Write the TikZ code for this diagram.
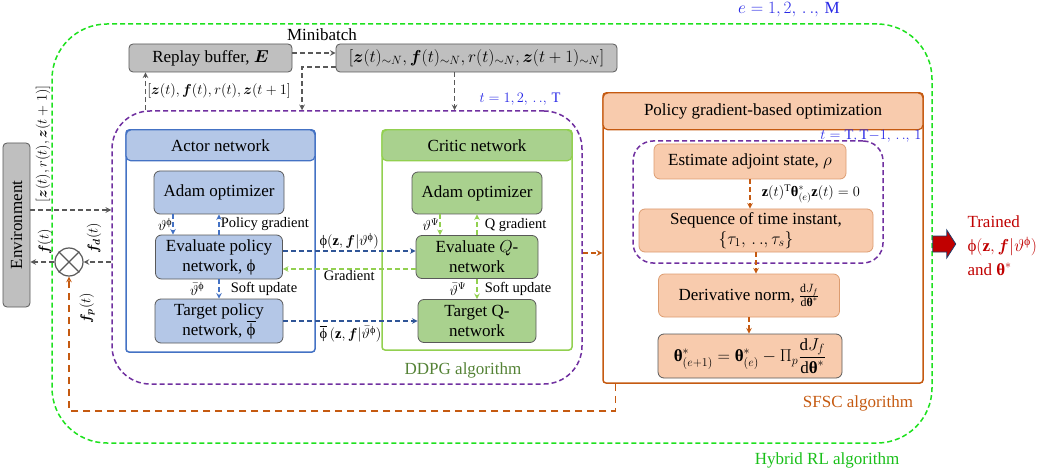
\documentclass[tikz,border=0pt]{standalone}
\usepackage{amsmath,bm}
\usepackage{fontspec}
\setmainfont{Liberation Serif}
\usepackage{tikz}
\usetikzlibrary{positioning, shapes, calc}

\definecolor{hybridgreen}{RGB}{30,225,30}
\definecolor{loopviolet}{RGB}{112,48,160}
\definecolor{actorblue}{RGB}{68,114,196}
\definecolor{actorfill}{RGB}{180,199,231}
\definecolor{arrowblue}{RGB}{47,85,151}
\definecolor{criticgreen}{RGB}{146,208,80}
\definecolor{criticfill}{RGB}{169,209,142}
\definecolor{ddpgtext}{RGB}{84,130,53}
\definecolor{sfscorange}{RGB}{197,90,17}
\definecolor{sfscfill}{RGB}{248,203,173}
\definecolor{bufferfill}{RGB}{191,191,191}
\definecolor{buffergray}{RGB}{89,89,89}
\definecolor{labelblue}{RGB}{40,40,230}
\definecolor{trainedred}{RGB}{192,0,0}

\newcommand{\bigtxt}{\fontsize{17}{20}\selectfont}
\newcommand{\smalltxt}{\fontsize{14.5}{17}\selectfont}
\newcommand{\phitxt}{\text{ϕ}}
\newcommand{\thetab}{\text{\bfseries θ}}

\begin{document}
\begin{tikzpicture}
        [
            x=1pt, y=-1pt, >=stealth, font=\bigtxt,
            graybox/.style={rounded corners=4pt, fill=bufferfill, draw=buffergray,
                            line width=0.8pt, inner sep=0pt},
            frame/.style={draw=#1, line width=1.5pt, rounded corners=3pt, inner sep=0pt},
            head/.style 2 args={fill=#1, draw=#2, line width=1.2pt, rounded corners=5pt,
                                anchor=north, inner sep=0pt},
            inbox/.style={rounded corners=6pt, fill=#1, draw=buffergray, line width=0.8pt,
                          align=center, inner sep=2pt},
            loop/.style={draw=#1, line width=1.5pt, dash pattern=on 5pt off 3pt},
            flow/.style={->, draw=#1, line width=1.5pt, dash pattern=on 5pt off 3pt},
            lbl/.style={font=\smalltxt, inner sep=1pt}
        ]
        \useasboundingbox (0,0) rectangle (1049,473);
        % outer loop
        \node (hybrid) [loop=hybridgreen, rounded corners=55pt, minimum width=880pt,
                        minimum height=419pt] at (492,233.5) {};
        \node [text=labelblue] at (789,10) {$e = 1, 2,\,.\,.,\,\mathrm{M}$};
        \node [text=hybridgreen!85!black] at (827,460) {Hybrid RL algorithm};
        % replay buffer and minibatch
        \node (replay) [graybox, minimum width=163pt, minimum height=28pt] at (210.5,58)
            {Replay buffer, $\bm{E}$};
        \node (mini) [graybox, minimum width=281pt, minimum height=28pt] at (476.5,58)
            {$[\bm z(t)_{\sim N}, \bm f(t)_{\sim N}, r(t)_{\sim N}, \bm z(t+1)_{\sim N}]$};
        \node at (322,35) {Minibatch};
        % DDPG loop
        \node (loopT) [loop=loopviolet, rounded corners=38pt, minimum width=470pt,
                       minimum height=273pt] at (347,247.5) {};
        \node [lbl, text=labelblue] at (520,99) {$t = 1, 2,\,.\,.,\,\mathrm{T}$};
        \node [text=ddpgtext] at (463,370) {DDPG algorithm};
        % actor network
        \node (actor) [frame=actorblue, minimum width=189pt, minimum height=222pt] at (220.5,241) {};
        \node (actorHead) [head={actorfill}{actorblue}, minimum width=189pt, minimum height=31pt]
            at (actor.north) {Actor network};
        \node (adamA) [inbox=actorfill, minimum width=130pt, minimum height=43pt] at (219,192.5)
            {Adam optimizer};
        \node (evalA) [inbox=actorfill, minimum width=127pt, minimum height=44pt] at (219,257)
            {Evaluate policy\\network, $\phitxt$};
        \node (targA) [inbox=actorfill, minimum width=128pt, minimum height=44pt] at (219,321)
            {Target policy\\network, $\overline{\phitxt}$};
        % critic network
        \node (critic) [frame=criticgreen, minimum width=190pt, minimum height=220pt] at (477,240) {};
        \node (criticHead) [head={criticfill}{criticgreen}, minimum width=190pt, minimum height=31pt]
            at (critic.north) {Critic network};
        \node (adamC) [inbox=criticfill, minimum width=130pt, minimum height=42pt] at (477,193)
            {Adam optimizer};
        \node (evalQ) [inbox=criticfill, minimum width=122pt, minimum height=43pt] at (477,257)
            {Evaluate $Q$-\\network};
        \node (targQ) [inbox=criticfill, minimum width=118pt, minimum height=43pt] at (477,321)
            {Target Q-\\network};
        % SFSC part
        \node (sfsc) [frame=sfscorange, minimum width=320pt, minimum height=290pt] at (763,238) {};
        \node (sfscHead) [head={sfscfill}{sfscorange}, minimum width=320pt, minimum height=37pt]
            at (sfsc.north) {Policy gradient-based optimization};
        \node (loopS) [loop=loopviolet, rounded corners=20pt, minimum width=250pt,
                       minimum height=122pt] at (758,202) {};
        \node [lbl, text=labelblue] at (871,136) {$t = \mathrm{T}, \mathrm{T}{-}1,\,.\,.,\,1$};
        \node (adj) [inbox=sfscfill, draw=sfscorange!60, minimum width=192pt, minimum height=35pt]
            at (750,161.5) {Estimate adjoint state, $\rho$};
        \node (seq) [inbox=sfscfill, draw=sfscorange!60, minimum width=234pt, minimum height=43pt]
            at (756,230.5) {Sequence of time instant,\\$\{\tau_1,\,.\,.,\tau_s\}$};
        \node (deriv) [inbox=sfscfill, draw=sfscorange!60, minimum width=181pt, minimum height=43pt]
            at (749,295.5) {Derivative norm, $\frac{\mathrm{d}J_f}{\mathrm{d}\thetab^*}$};
        \node (upd) [inbox=sfscfill, minimum width=184pt, minimum height=44pt] at (750,356)
            {$\thetab^*_{(e+1)} = \thetab^*_{(e)} - \Pi_p\dfrac{\mathrm{d}J_f}{\mathrm{d}\thetab^*}$};
        \node [text=sfscorange] at (858,403) {SFSC algorithm};
        % environment and summing point
        \node (env) [graybox, minimum width=27pt, minimum height=164pt] at (16.5,225)
            {\rotatebox{90}{Environment}};
        \node (sum) [circle, draw=buffergray, line width=1.2pt, fill=white, minimum size=28pt]
            at (69,262) {};
        \draw [buffergray, line width=1.2pt] (sum.north west) -- (sum.south east)
            (sum.north east) -- (sum.south west);
        % connectors
        \draw [flow=buffergray] ([yshift=5pt]replay.east) -- ([yshift=5pt]mini.west);
        \draw [flow=buffergray] ([yshift=-9pt]mini.west) -| ([xshift=-45pt]loopT.north);
        \coordinate (mb) at ([xshift=-22pt]mini.south);
        \draw [flow=buffergray] (mb) -- (mb |- loopT.north);
        \coordinate (rb) at ([xshift=-65pt]replay.south);
        \draw [flow=buffergray] (rb |- loopT.north) -- (rb)
            node [lbl, midway, right] {$[\bm z(t), \bm f(t), r(t), \bm z(t+1]$};
        \coordinate (envOut) at ([yshift=15pt]env.east);
        \draw [flow=buffergray] (envOut) -- (envOut -| loopT.west);
        \node [lbl, rotate=90] at (43,144) {$[\bm z(t), r(t), \bm z(t+1)]$};
        \draw [flow=buffergray] (sum) -- (sum -| env.east);
        \node [lbl, rotate=90] at (45,242) {$\bm f(t)$};
        \draw [flow=buffergray] (sum -| loopT.west) -- (sum);
        \node [lbl, rotate=90] at (94,238) {$\bm f_{\bm d}(t)$};
        \draw [flow=sfscorange, dash pattern=on 7pt off 5pt]
            ([xshift=13pt]sfsc.south west) -- ++(0,27) -| (sum);
        \node [lbl, rotate=90] at (87,308) {$\bm f_{\bm p}(t)$};
        \coordinate (o1) at ([yshift=-5.5pt]loopT.east);
        \draw [flow=sfscorange] (o1) -- (o1 -| sfsc.west);
        % inside actor and critic
        \draw [flow=actorblue] ([xshift=-46pt]adamA.south) -- ([xshift=-46pt]evalA.north)
            node [lbl, midway, left, inner sep=0pt] {$\vartheta^{\phitxt}$};
        \draw [flow=actorblue] (evalA) -- (adamA) node [lbl, midway, right] {Policy gradient};
        \draw [flow=actorblue] (evalA) -- (targA) node [lbl, midway, right, xshift=10pt] {Soft update}
            node [lbl, midway, left=14pt, inner sep=0pt] {$\bar\vartheta^{\phitxt}$};
        \draw [flow=criticgreen] ([xshift=-37pt]adamC.south) -- ([xshift=-37pt]evalQ.north)
            node [lbl, midway, left, inner sep=0pt] {$\vartheta^{\Psi}$};
        \draw [flow=criticgreen] (evalQ) -- (adamC) node [lbl, midway, right, xshift=6pt] {Q gradient};
        \draw [flow=criticgreen] (evalQ) -- (targQ) node [lbl, midway, right, xshift=6pt] {Soft update}
            node [lbl, midway, left=10pt, inner sep=0pt] {$\bar\vartheta^{\Psi}$};
        \draw [flow=arrowblue] ([yshift=6pt]evalA.east) -- ([yshift=6pt]evalQ.west)
            node [lbl, midway, above] {$\phitxt(\mathbf z, \bm f|\vartheta^{\phitxt})$};
        \draw [flow=criticgreen] ([yshift=-12pt]evalQ.west) -- ([yshift=-12pt]evalA.east)
            node [lbl, midway, below] {Gradient};
        \draw [flow=arrowblue] (targA) -- (targQ)
            node [lbl, midway, below=3pt] {$\overline{\phitxt}\,(\mathbf z, \bm f|\bar\vartheta^{\phitxt})$};
        % inside SFSC
        \draw [flow=sfscorange] (adj) -- (adj |- seq.north)
            node [lbl, midway, right=10pt] {$\mathbf z(t)^{\mathrm T}\thetab^*_{(e)}\mathbf z(t) = 0$};
        \foreach \i/\j in {seq/deriv, deriv/upd}
            \draw [flow=sfscorange] (\i) -- (\i |- \j.north);
        % output
        \coordinate (outBase) at (hybrid.east |- 0,244);
        \filldraw [fill=trainedred, draw=arrowblue!70!black, line width=0.8pt]
            ([yshift=8pt]outBase) -- ++(14,0) -- ++(0,-6) -- ++(9,14) -- ++(-9,14)
            -- ++(0,-6) -- ++(-14,0) -- cycle;
        \node (outTxt) [anchor=west, align=left, text=trainedred, font=\fontsize{17}{24}\selectfont]
            at (964,246) {Trained\\$\phitxt(\mathbf z, \bm f|\vartheta^{\phitxt})$\\and $\thetab^*$};
    \end{tikzpicture}
\end{document}
